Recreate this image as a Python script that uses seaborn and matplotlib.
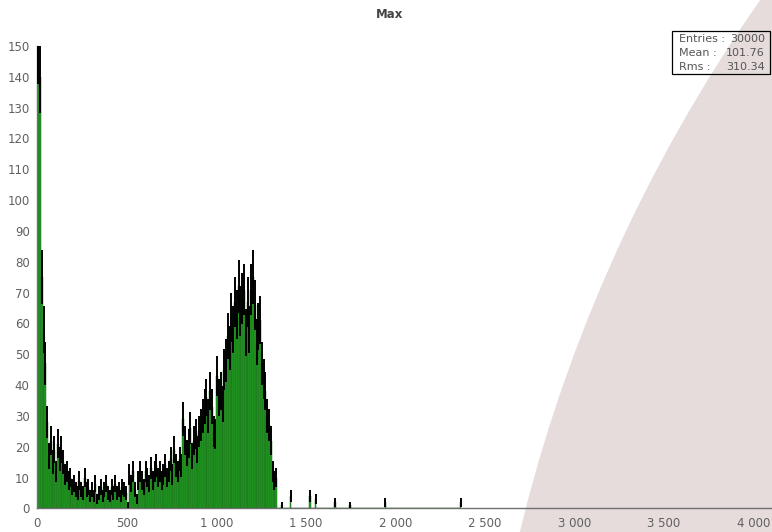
import numpy as np
import matplotlib
matplotlib.use("Agg")
import matplotlib.pyplot as plt
import seaborn as sns
from matplotlib.patches import Circle, Rectangle
from matplotlib.ticker import FuncFormatter

# --- dati: istogramma "Max", bin larghi 10 ---
bin_width = 10
main_counts = [
    150, 140, 75, 58, 47, 28, 17, 22, 15, 19,
    12, 21, 16, 19, 15, 11, 12, 9, 10, 7,
    8, 6, 5, 9, 6, 5, 10, 6, 7, 4,
    6, 4, 8, 3, 5, 7, 4, 6, 8, 5,
    4, 7, 5, 8, 5, 6, 4, 7, 6, 5,
    1, 11, 8, 12, 6, 3, 9, 12, 9, 7,
    12, 10, 8, 13, 9, 12, 14, 10, 12, 9,
    11, 14, 10, 12, 16, 11, 19, 14, 12, 16,
    14, 29, 22, 18, 21, 26, 17, 22, 24, 19,
    25, 27, 30, 33, 36, 30, 38, 33, 25, 24,
    43, 36, 38, 34, 45, 48, 56, 52, 62, 58,
    67, 63, 72, 64, 68, 71, 57, 67, 58, 71,
    75, 66, 54, 59, 61, 47, 42, 38, 30, 27,
    22, 12, 9, 10,
]
main_lefts = list(range(0, bin_width * len(main_counts), bin_width))
spike_lefts = [1360, 1410, 1520, 1550, 1660, 1740, 1940, 2360]
spike_counts = [1, 4, 4, 3, 2, 1, 2, 2]

x_ticks = [0, 500, 1000, 1500, 2000, 2500, 3000, 3500, 4000]
y_ticks = list(range(0, 151, 10))
stats_labels = ["Entries :", "Mean :", "Rms :"]
stats_values = ["30000", "101.76", "310.34"]

lefts = np.array(main_lefts + spike_lefts, dtype=float)
counts = np.array(main_counts + spike_counts, dtype=float)
centers = lefts + bin_width / 2

# --- figura ---
sns.set_theme(style="white")
plt.rcParams['font.family'] = ['DejaVu Sans']

fig = plt.figure(figsize=(7.72, 5.32), dpi=100)

# sfondo rosato (grande cerchio sulla destra)
cerchio = Circle((20.43, -3.68), 15.67, transform=fig.dpi_scale_trans,
                 facecolor="#e6dcdc", edgecolor="none", zorder=-5)
fig.patches.append(cerchio)

ax = fig.add_axes([0.0483, 0.0445, 0.9517, 0.869])
ax.set_facecolor("none")

sns.histplot(x=centers, weights=counts, binwidth=bin_width, binrange=(0, 2370),
             color="#1f9c1f", edgecolor="#1f6a1f", linewidth=0.35, alpha=1.0, ax=ax)

mask = counts > 0
ax.errorbar(centers[mask], counts[mask], yerr=np.sqrt(counts[mask]), fmt="none",
            ecolor="black", elinewidth=1.4, capsize=0, zorder=3)

ax.set_xlim(0, 4105)
ax.set_ylim(0, 150)
ax.set_xticks(x_ticks)
ax.set_yticks(y_ticks)
ax.xaxis.set_major_formatter(FuncFormatter(lambda v, p: f"{int(v):,}".replace(",", " ")))
ax.set_xlabel("")
ax.set_ylabel("")

for lato in ["top", "right"]:
    ax.spines[lato].set_visible(False)
for lato in ["left", "bottom"]:
    ax.spines[lato].set_color("#707070")
    ax.spines[lato].set_linewidth(1.0)
ax.tick_params(axis="both", direction="inout", length=7, width=1.0, color="#707070",
               labelcolor="#606060", labelsize=8.5, pad=2)
ax.tick_params(axis="x", pad=3)

fig.text(0.505, 0.973, "Max", ha="center", va="center", fontsize=8.5,
         fontweight="bold", color="#444444")

# riquadro statistiche
box = Rectangle((672 / 772, 1 - 74 / 532), 98 / 772, 43 / 532, transform=fig.transFigure,
                facecolor="none", edgecolor="black", linewidth=0.9, zorder=5)
fig.patches.append(box)
for i, (lab, val) in enumerate(zip(stats_labels, stats_values)):
    y = 1 - (39 + 14 * i) / 532
    fig.text(679 / 772, y, lab, ha="left", va="center", fontsize=8, color="#555555")
    fig.text(765 / 772, y, val, ha="right", va="center", fontsize=8, color="#555555")

fig.savefig("out.png", dpi=100)
plt.close(fig)
